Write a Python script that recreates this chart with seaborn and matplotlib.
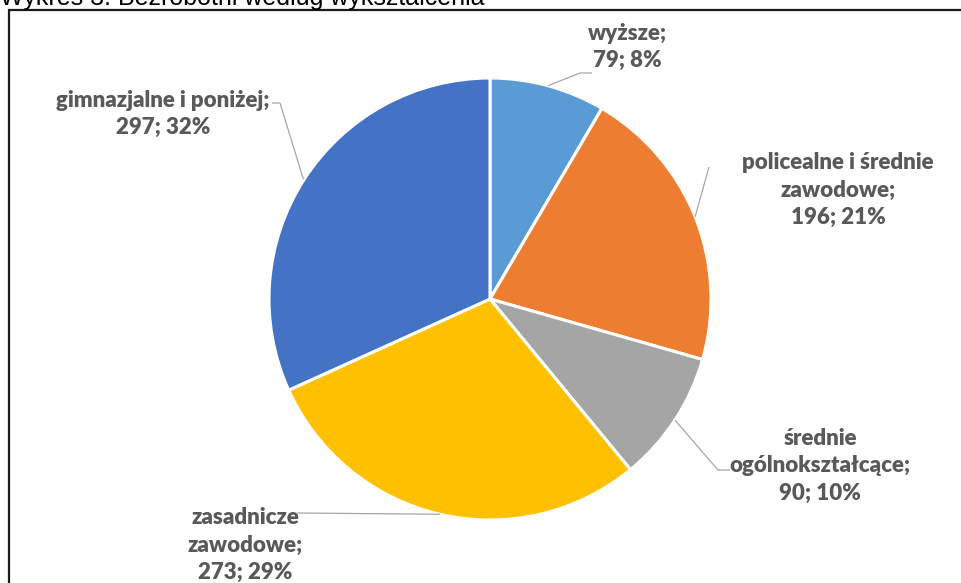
import numpy as np
import matplotlib
matplotlib.use("Agg")
import matplotlib.pyplot as plt
from matplotlib.patches import Rectangle
import seaborn as sns

# ---- data ----
categories = ["wyższe", "policealne i średnie\nzawodowe", "średnie\nogólnokształcące",
              "zasadnicze\nzawodowe", "gimnazjalne i poniżej"]
values = [79, 196, 90, 273, 297]
colors = ["#5B9BD5", "#ED7D31", "#A5A5A5", "#FFC000", "#4472C4"]
title = "Wykres 3. Bezrobotni według wykształcenia"

sns.set_theme(style="white")
plt.rcParams['font.family'] = ['DejaVu Sans']

W, H = 961, 583
fig = plt.figure(figsize=(W / 100, H / 100), dpi=100)
ax = fig.add_axes([0, 0, 1, 1])

def P(x, y):
    return x, H - y

cx, cy = P(490, 299)
R = 221
wedges, _ = ax.pie(values, colors=colors, startangle=90, counterclock=False,
                   center=(cx, cy), radius=R, frame=True,
                   wedgeprops=dict(edgecolor="white", linewidth=2.2))
ax.set_xlim(0, W)
ax.set_ylim(0, H)
ax.set_aspect("equal")
ax.axis("off")

total = sum(values)
pcts = [round(v / total * 100) for v in values]

# label layout (pixel positions of text centre, leader-line end points)
label_pos = [(627, 47), (838, 190), (820, 466), (245, 545), (163, 114)]
leader_ends = [
    [(580, 73), (592, 73)],
    [(709, 167)],
    [(718, 470), (730, 470)],
    [(297, 513)],
    [(303, 178), (280, 103), (272, 103)],
]

lato = ["Lato", "DejaVu Sans"]
for w, cat, v, p, lp, ends in zip(wedges, categories, values, pcts, label_pos, leader_ends):
    mid = np.deg2rad((w.theta1 + w.theta2) / 2)
    sx, sy = cx + R * np.cos(mid), cy + R * np.sin(mid)
    xs = [sx] + [P(*e)[0] for e in ends]
    ys = [sy] + [P(*e)[1] for e in ends]
    ax.plot(xs, ys, color="#A6A6A6", lw=0.9, solid_capstyle="butt", zorder=1)
    ax.text(*P(*lp), f"{cat};\n{v}; {p}%", ha="center", va="center",
            fontsize=16, fontweight="heavy", color="#595959", family=lato,
            linespacing=1.4)

# title (partly cut off at the top, as in the reference)
ax.text(*P(0, 5), title, ha="left", va="baseline", fontsize=18,
        family=["Liberation Sans", "DejaVu Sans"], color="black")

# chart border
ax.add_patch(Rectangle(P(9, 600), 1000, 590, fill=False, edgecolor="#1a1a1a",
                       lw=1.6, clip_on=True))

fig.savefig("out.png", dpi=100, facecolor="white")
